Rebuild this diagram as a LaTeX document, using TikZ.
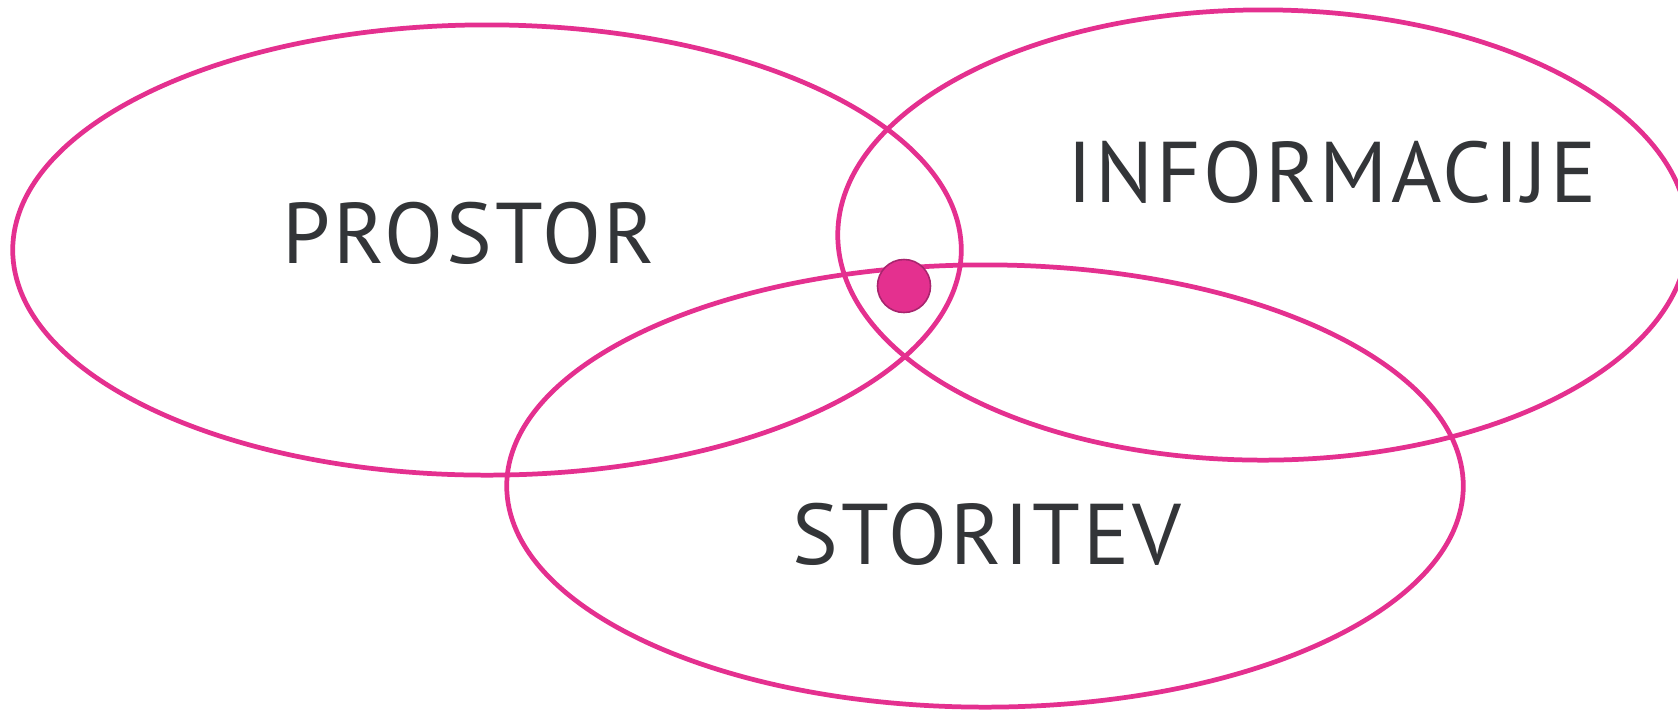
\documentclass[tikz,border=0pt]{standalone}
\usepackage{fontspec}
\setmainfont[LetterSpace=3.5]{PT Sans}
\usepackage{tikz}
\usetikzlibrary{shapes.geometric}
\definecolor{roza}{HTML}{E4308F}
\definecolor{temnoroza}{HTML}{A8256E}
\definecolor{crke}{HTML}{333538}

\begin{document}
\begin{tikzpicture}[x=0.01cm, y=-0.01cm,
    krog/.style={draw=roza, line width=1.35pt, shape=ellipse, inner sep=0pt},
    napis/.style={text=crke, font=\fontsize{24.5}{28}\selectfont, anchor=base}]
    \useasboundingbox (0,0) rectangle (1678,711);
    \clip (0,0) rectangle (1678,711);
    % mnozice
    \node[krog, minimum width=9.48cm, minimum height=4.5cm] (prostor) at (487,250) {};
    \node[krog, minimum width=8.5cm, minimum height=4.5cm] (informacije) at (1263,235) {};
    \node[krog, minimum width=9.56cm, minimum height=4.42cm] (storitev) at (985,486) {};
    % napisi
    \node[napis] (tprostor) at (469,263) {PROSTOR};
    \node[napis] (tinformacije) at (1332,202) {INFORMACIJE};
    \node[napis] (tstoritev) at (987,564) {STORITEV};
    % presek
    \node[circle, fill=roza, draw=temnoroza, line width=0.45pt, minimum size=0.53cm, inner sep=0pt] (jedro) at (904,286) {};
\end{tikzpicture}
\end{document}
